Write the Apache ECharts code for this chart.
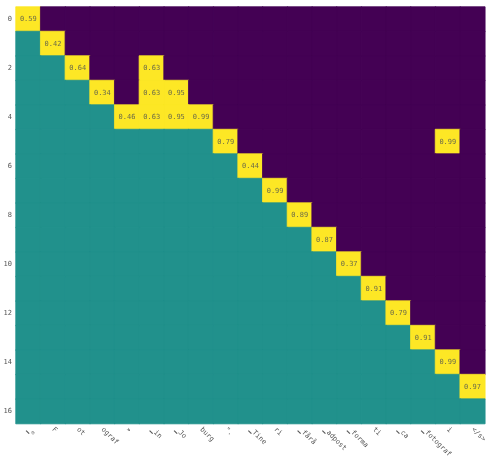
<!DOCTYPE html>
<html><head><meta charset="utf-8">
<script src="https://cdn.jsdelivr.net/npm/echarts@6/dist/echarts.min.js"></script>
<style>html,body{margin:0;padding:0;background:#fff}#c{width:489px;height:460px}</style>
</head><body><div id="c"></div>
<script>
const xLabels = ["▁«","F","ot","ograf","»","▁in","▁Jo","burg","\".","▁Tine","ri","▁fårå","▁adpost","▁forma","ti","▁ca","▁fotograf","i","</s>"];
const yLabels = ["0","1","2","3","4","5","6","7","8","9","10","11","12","13","14","15","16"];
// number of teal (lower) cells at the start of each row
const tealCount = [0,1,2,3,4,8,9,10,11,12,13,14,15,16,17,18,19];
// highlighted cells: [row, column, value]
const highlights = [
  [0,0,0.59],[1,1,0.42],[2,2,0.64],[2,5,0.63],[3,3,0.34],[3,5,0.63],[3,6,0.95],
  [4,4,0.46],[4,5,0.63],[4,6,0.95],[4,7,0.99],[5,8,0.79],[5,17,0.99],[6,9,0.44],
  [7,10,0.99],[8,11,0.89],[9,12,0.87],[10,13,0.37],[11,14,0.91],[12,15,0.79],
  [13,16,0.91],[14,17,0.99],[15,18,0.97]
];
const colors = ["#440154","#21918c","#fde725"];

const hmap = {};
highlights.forEach(h => { hmap[h[0]+"_"+h[1]] = h[2]; });
const data = [];
for (let r = 0; r < yLabels.length; r++) {
  for (let c = 0; c < xLabels.length; c++) {
    const key = r+"_"+c;
    let state = c < tealCount[r] ? 1 : 0;
    let val = null;
    if (key in hmap) { state = 2; val = hmap[key]; }
    const col = colors[state];
    data.push({value:[c, r, state, val], itemStyle:{color:col, borderColor:col, borderWidth:0.8}});
  }
}
const chart = echarts.init(document.getElementById('c'), null, {renderer:'canvas'});
const font = "'DejaVu Sans Mono', monospace";
chart.setOption({
  animation:false,
  grid:{left:16,right:3,top:7,bottom:32,containLabel:false},
  xAxis:{type:'category',data:xLabels,axisTick:{show:false},axisLine:{show:false},splitLine:{show:false},
    axisLabel:{rotate:-45,interval:0,fontSize:7,color:'#555',fontFamily:font,margin:5}},
  yAxis:{type:'category',data:yLabels,inverse:true,axisTick:{show:false},axisLine:{show:false},splitLine:{show:false},
    axisLabel:{interval:1,fontSize:7,color:'#555',fontFamily:font,margin:4}},
  series:[{type:'heatmap',data:data,
    label:{show:true,fontSize:7,fontFamily:font,color:'#6b6b4a',
      formatter:p=>p.value[2]===2?p.value[3].toFixed(2):''}}]
});
</script></body></html>
